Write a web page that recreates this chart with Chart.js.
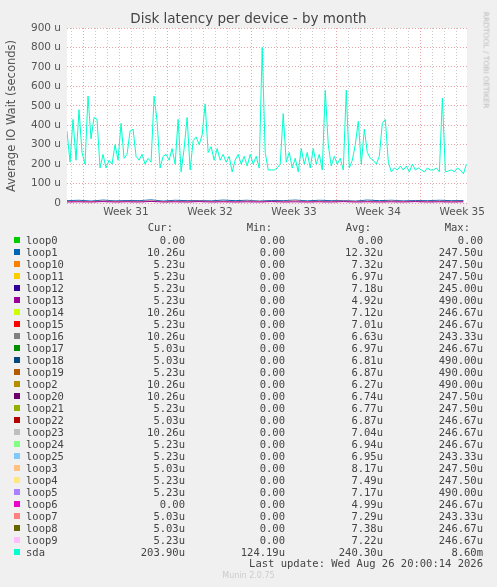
<!DOCTYPE html>
<html><head><meta charset="utf-8">
<script src="https://cdn.jsdelivr.net/npm/chart.js@4/dist/chart.umd.min.js"></script>
<style>
body{margin:0;background:#f0f0f0;width:497px;height:587px;position:relative;overflow:hidden;font-family:"DejaVu Sans",sans-serif}
#wrap{position:absolute;left:0;top:0;width:497px;height:225px}
.t{position:absolute;white-space:pre;color:#555}
#leg{position:absolute;left:0;top:0;font-family:"DejaVu Sans Mono",monospace;font-size:10.5px;color:#444}
.row{position:absolute;height:12px;line-height:12px}
.sq{position:absolute;width:6px;height:6px;top:3px;left:14px}
.c{position:absolute;text-align:right;white-space:pre}
</style></head><body>
<div id="wrap"><canvas id="c" width="497" height="225"></canvas></div>
<div class="t" style="left:0;width:497px;text-align:center;top:10px;font-size:13.5px;color:#444">Disk latency per device - by month</div>
<div class="t" style="left:3px;top:116px;font-size:11.5px;transform:translate(-50%,-50%) rotate(-90deg);transform-origin:center;left:11px">Average IO Wait (seconds)</div>
<div class="t" style="left:486px;top:60px;font-size:7.5px;color:#bbb;transform:translate(-50%,-50%) rotate(90deg)">RRDTOOL / TOBI OETIKER</div>
<div id="leg"></div>
<div class="t" style="left:0;width:483px;text-align:right;top:557px;font-family:'DejaVu Sans Mono',monospace;font-size:10.5px;color:#444">Last update: Wed Aug 26 20:00:14 2026</div>
<div class="t" style="left:0;width:497px;text-align:center;top:571px;font-size:8px;color:#ccc">Munin 2.0.75</div>
<script>
const weekLabels=["Week 31","Week 32","Week 33","Week 34","Week 35"];
const weekLabelDays=[4.9,11.9,18.9,25.9,32.9];
const weekStartDays=[1.4,8.4,15.4,22.4,29.4];
const stepDays=0.25;
const sda=[370,210,430,220,480,260,200,550,330,440,430,180,250,180,220,200,300,220,410,230,250,370,380,240,220,250,200,230,210,550,420,180,240,250,220,280,200,430,160,280,440,170,320,340,300,350,510,260,290,220,280,220,250,210,240,160,220,250,200,240,190,250,200,240,180,800,260,170,170,170,180,200,460,210,260,180,230,160,280,200,260,180,280,200,250,170,580,300,190,240,200,230,170,580,180,220,300,420,200,380,260,230,220,200,240,410,430,210,160,180,170,190,170,190,160,200,170,180,170,160,180,170,170,180,160,540,160,165,170,160,180,170,150,200];
const loop1=[12,14,10,15,11,13,12,16,10,14,12,13,11,15,12,14,10,13,12,15,11,14,12,13,10,15,12,14,11,13,12,14,12,13];
const loop13=[5,6,5,7,5,6,5,8,5,6,5,7,5,6,5,6,5,7,5,6,5,6,5,7,5,6,5,6,5,7,5,6,5,6];
const loop7=[8,9,7,10,8,9,8,11,7,9,8,10,8,9,7,10,8,9,8,11,7,9,8,10,8,9,7,10,8,9,8,9,8,9];
const names=["loop0","loop1","loop10","loop11","loop12","loop13","loop14","loop15","loop16","loop17","loop18","loop19","loop2","loop20","loop21","loop22","loop23","loop24","loop25","loop3","loop4","loop5","loop6","loop7","loop8","loop9","sda"];
const colors=["#00CC00","#0066B3","#FF8000","#FFCC00","#330099","#990099","#CCFF00","#FF0000","#808080","#008F00","#00487D","#B35A00","#B38F00","#6B006B","#8FB300","#B30000","#BEBEBE","#80FF80","#80C9FF","#FFC080","#FFE680","#AA80FF","#EE00CC","#FF8080","#666600","#FFBFFF","#00FFCC"];
const cur=["0.00","10.26u","5.23u","5.23u","5.23u","5.23u","10.26u","5.23u","10.26u","5.03u","5.03u","5.23u","10.26u","10.26u","5.23u","5.03u","10.26u","5.23u","5.23u","5.03u","5.23u","5.23u","0.00","5.03u","5.03u","5.23u","203.90u"];
const mins=["0.00","0.00","0.00","0.00","0.00","0.00","0.00","0.00","0.00","0.00","0.00","0.00","0.00","0.00","0.00","0.00","0.00","0.00","0.00","0.00","0.00","0.00","0.00","0.00","0.00","0.00","124.19u"];
const avgs=["0.00","12.32u","7.32u","6.97u","7.18u","4.92u","7.12u","7.01u","6.63u","6.97u","6.81u","6.87u","6.27u","6.74u","6.77u","6.87u","7.04u","6.94u","6.95u","8.17u","7.49u","7.17u","4.99u","7.29u","7.38u","7.22u","240.30u"];
const maxs=["0.00","247.50u","247.50u","247.50u","245.00u","490.00u","246.67u","246.67u","243.33u","246.67u","490.00u","490.00u","490.00u","247.50u","247.50u","246.67u","246.67u","246.67u","243.33u","247.50u","247.50u","490.00u","246.67u","243.33u","246.67u","246.67u","8.60m"];

const leg=document.getElementById('leg');
let h='<div class="row" style="top:221px;width:497px"><span class="c" style="right:324px">Cur:</span><span class="c" style="right:225px">Min:</span><span class="c" style="right:126px">Avg:</span><span class="c" style="right:27px">Max:</span></div>';
names.forEach((n,i)=>{
 h+=`<div class="row" style="top:${234+i*12}px;width:497px"><span class="sq" style="background:${colors[i]}"></span><span class="c" style="left:26px;text-align:left">${n}</span><span class="c" style="right:312px">${cur[i]}</span><span class="c" style="right:212px">${mins[i]}</span><span class="c" style="right:114px">${avgs[i]}</span><span class="c" style="right:14px">${maxs[i]}</span></div>`;
});
leg.innerHTML=h;

const pts=a=>a.map((v,i)=>({x:i*stepDays,y:v}));
const ptsDaily=a=>a.map((v,i)=>({x:i,y:v}));
const ds=[
 {label:"loop13",data:ptsDaily(loop13),borderColor:colors[5]},
 {label:"loop7",data:ptsDaily(loop7),borderColor:colors[23]},
 {label:"loop1",data:ptsDaily(loop1),borderColor:colors[1]},
 {label:"sda",data:pts(sda),borderColor:colors[26]}
].map(d=>Object.assign(d,{borderWidth:1,pointRadius:0,tension:0,fill:false}));

const dayTicks=[];for(let d=0.4;d<33.4;d+=1)dayTicks.push(+d.toFixed(2));
const bg={id:'bg',beforeDraw(c){const a=c.chartArea,x=c.ctx;x.save();x.fillStyle='#fff';x.fillRect(a.left,a.top,a.right-a.left,a.bottom-a.top);x.restore();}};
new Chart(document.getElementById('c'),{type:'line',data:{datasets:ds},plugins:[bg],
options:{responsive:false,animation:false,layout:{padding:{top:28,right:30,left:0,bottom:0}},
plugins:{legend:{display:false},tooltip:{enabled:false}},
scales:{
 x:{type:'linear',min:0,max:33.3,afterFit:s=>{s.height=22},
  afterBuildTicks:s=>{s.ticks=dayTicks.concat(weekLabelDays).map(v=>({value:v}))},
  border:{display:false,dash:[1,2]},
  grid:{drawTicks:false,lineWidth:1,color:c=>{const v=c.tick&&c.tick.value;if(weekLabelDays.includes(v))return 'rgba(0,0,0,0)';if(weekStartDays.some(w=>Math.abs(w-v)<0.05))return 'rgba(225,140,140,0.8)';return 'rgba(190,190,190,0.8)';}},
  ticks:{autoSkip:false,maxRotation:0,padding:3,color:'#555',font:{family:'DejaVu Sans',size:10.5},callback:v=>{const i=weekLabelDays.indexOf(v);return i>=0?weekLabels[i]:''}}},
 y:{min:0,max:900,afterFit:s=>{s.width=67},border:{display:false,dash:[1,2]},
  grid:{drawTicks:false,color:c=>c.tick.value%100===0?'rgba(225,140,140,0.8)':'rgba(190,190,190,0.8)'},
  ticks:{stepSize:50,padding:6,color:'#555',font:{family:'DejaVu Sans',size:10.5},callback:v=>v%100!==0?'':(v===0?'0':v+' u')}}
}}});
</script></body></html>
